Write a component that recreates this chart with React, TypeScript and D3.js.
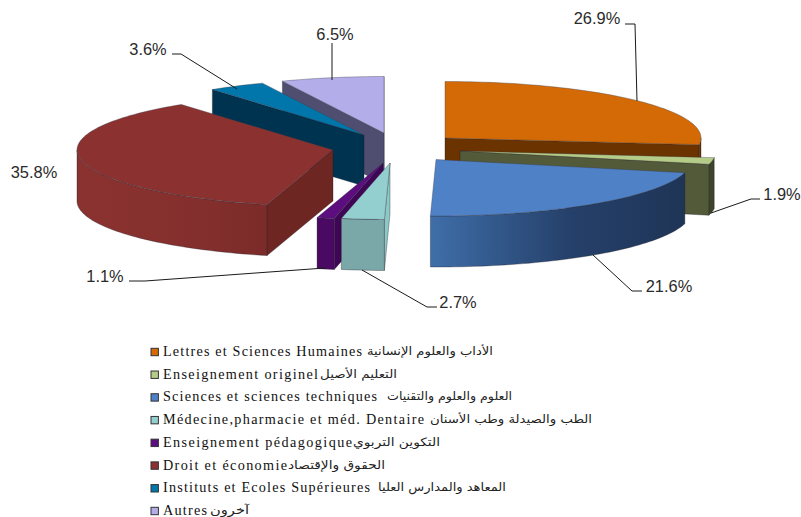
import React from "react";
import * as d3 from "d3";

const categories = ["Lettres et Sciences Humaines","Enseignement originel","Sciences et sciences techniques","Médecine,pharmacie et méd. Dentaire","Enseignement pédagogique","Droit et économie","Instituts et Ecoles Supérieures","Autres"];
const arabicNames = ["الأداب والعلوم الإنسانية","التعليم الأصيل","العلوم والعلوم والتقنيات","الطب والصيدلة وطب الأسنان","التكوين التربوي","الحقوق والإقتصاد","المعاهد والمدارس العليا","آخرون"];
const shares = [26.9,1.9,21.6,2.7,1.1,35.8,3.6,6.5];
const labels = ["26.9%","1.9%","21.6%","2.7%","1.1%","35.8%","3.6%","6.5%"];

// layout (kept apart from the data)
const RX = 256, RY = 56.5, DEPTH = 51;
const apexX = [445,460,436,390,383,333,364,384];
const apexY = [138,151,159.5,163,163,150,135,133];
const topFill = ["#D46A06","#B5CC88","#4F81C7","#93CFCF","#5C0E7E","#8B3230","#0076AB","#B3AEEA"];
const radialFill = ["#6B3300","#525A3A","#1E3355","#8CC8C6","#3F0655","#6E2623","#003350","#4F4E70"];
const wallFrom = ["#6B3300","#3D4429","#3F6EA8","#7AA8A8","#4A0A63","#8A3230","#003350","#4F4E70"];
const wallMid = ["#6B3300","#3D4429","#25406A","#7AA8A8","#4A0A63","#85302E","#003350","#4F4E70"];
const wallTo = ["#6B3300","#3D4429","#1F3557","#7AA8A8","#4A0A63","#7B2B29","#003350","#4F4E70"];
const drawOrder = [7,6,5,0,1,2,4,3];
const labelX = [597,782,669,458,105,34,148,335];
const labelY = [24,200,292,308,282,178,55,40];
const leaders = [
  [[625,24],[635,24],[637,101]],
  [[711,213],[751,199],[760,199]],
  [[593,255],[632,291],[642,291]],
  [[362,270],[427,307],[437,307]],
  [[129,281],[145,281],[325,268]],
  [],
  [[172,54],[181,54],[237,89]],
  [[332,43],[332,80]],
];
const legendLatinEnd = [362,318,377,424,352,287,370,207];
const arabicStart = [367,320,387,430,353,288,378,210];
const arabicEnd = [493,397,512,592,440,385,506,249];

const pieAngles = d3.pie<number>().sort(null).value(d => d)(shares);
const legendY = d3.scaleLinear().domain([0, 7]).range([352, 511]);
const sweep = d3.line<[number, number]>();

function ell(i: number, a: number): [number, number] {
  return [apexX[i] + RX * Math.sin(a), apexY[i] - RY * Math.cos(a)];
}
const drop = (p: [number, number]): [number, number] => [p[0], p[1] + DEPTH];
function arcPts(i: number, a0: number, a1: number) {
  const n = Math.max(2, Math.ceil((a1 - a0) * 40));
  return d3.range(n + 1).map(k => ell(i, a0 + ((a1 - a0) * k) / n));
}

const STROKE = "rgba(20,20,30,0.55)";

function Slice({ i }: { i: number }) {
  const { startAngle: a0, endAngle: a1 } = pieAngles[i];
  const apex: [number, number] = [apexX[i], apexY[i]];
  const faces: React.ReactNode[] = [];
  const radial = (a: number, key: string) => {
    const p = ell(i, a);
    faces.push(<path key={key} d={sweep([apex, p, drop(p), drop(apex)]) + "Z"} fill={radialFill[i]} stroke={STROKE} strokeWidth={0.6} strokeLinejoin="round" />);
  };
  if (Math.sin(a1) > 0) radial(a1, "end");
  if (Math.sin(a0) < 0) radial(a0, "start");
  const w0 = Math.max(a0, Math.PI / 2), w1 = Math.min(a1, (3 * Math.PI) / 2);
  if (w1 > w0) {
    const upper = arcPts(i, w0, w1);
    const lower = upper.map(drop).reverse();
    faces.push(<path key="wall" d={sweep([...upper, ...lower]) + "Z"} fill={`url(#wall${i})`} stroke={STROKE} strokeWidth={0.6} strokeLinejoin="round" />);
  }
  const top = [apex, ...arcPts(i, a0, a1)] as [number, number][];
  return (
    <g>
      {faces}
      <path d={sweep(top) + "Z"} fill={topFill[i]} stroke="rgba(60,60,70,0.6)" strokeWidth={0.6} strokeLinejoin="round" />
    </g>
  );
}

export default function App() {
  return (
    <svg width={801} height={517} style={{ position: "absolute", left: 0, top: 0, background: "#fff" }}>
      <defs>
        {categories.map((_, i) => (
          <linearGradient key={i} id={`wall${i}`} x1="0" x2="1" y1="0" y2="0">
            <stop offset="0" stopColor={wallFrom[i]} />
            <stop offset="0.55" stopColor={wallMid[i]} />
            <stop offset="1" stopColor={wallTo[i]} />
          </linearGradient>
        ))}
      </defs>
      {drawOrder.map(i => <Slice key={i} i={i} />)}
      {leaders.map((pts, i) => pts.length ? (
        <path key={i} d={sweep(pts as [number, number][]) ?? ""} fill="none" stroke="#1a1a1a" strokeWidth={1} />
      ) : null)}
      {labels.map((t, i) => (
        <text key={t} x={labelX[i]} y={labelY[i]} textAnchor="middle" fontFamily="Liberation Sans" fontSize={16.4} fill="#2a2a2a">{t}</text>
      ))}
      {categories.map((c, i) => {
        const y = legendY(i);
        return (
          <g key={c}>
            <rect x={151} y={y - 3.7} width={7.4} height={7.4} fill={topFill[i]} stroke="#333" strokeWidth={1} />
            <text x={163} y={y + 4} fontFamily="Liberation Serif" fontSize={14.2} fill="#111" textLength={legendLatinEnd[i] - 163} lengthAdjust="spacing">{c}</text>
            <text x={arabicStart[i]} y={y + 3} fontFamily="DejaVu Sans" fontSize={11.5} fill="#222" textLength={arabicEnd[i] - arabicStart[i]} lengthAdjust="spacingAndGlyphs" direction="rtl" style={{ unicodeBidi: "plaintext" }} textAnchor="end">{arabicNames[i]}</text>
          </g>
        );
      })}
    </svg>
  );
}
